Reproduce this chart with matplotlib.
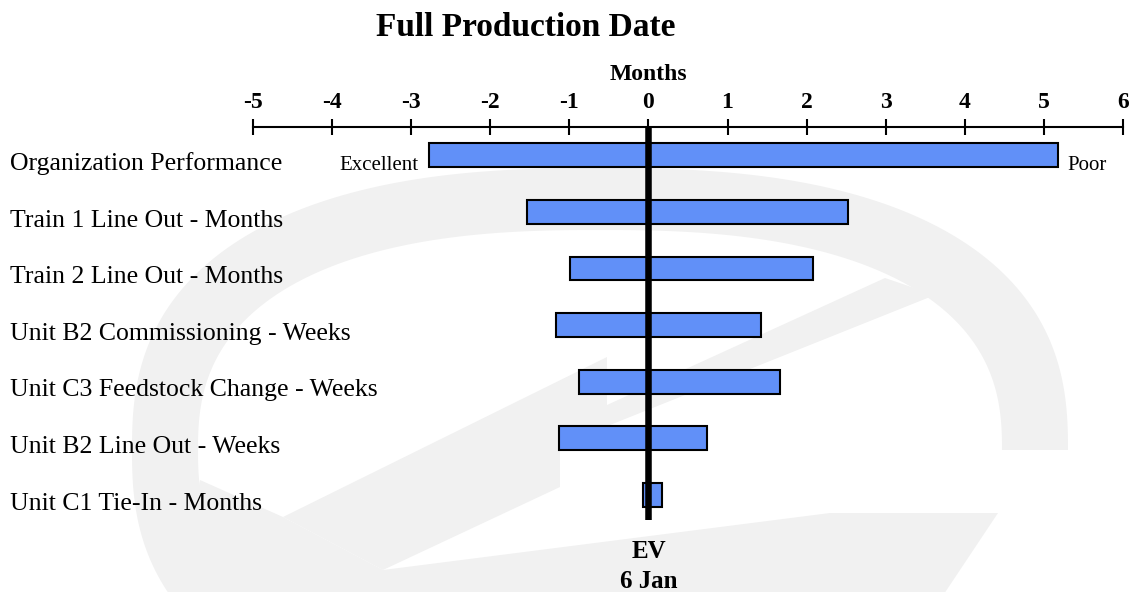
import numpy as np
import matplotlib
matplotlib.use('Agg')
import matplotlib.pyplot as plt
from matplotlib import transforms
from matplotlib.patches import Polygon

plt.rcParams['font.family'] = ['Liberation Serif', 'DejaVu Serif']

# Swing of each driver around the expected full-production date, in months
categories = [
    'Organization Performance',
    'Train 1 Line Out - Months',
    'Train 2 Line Out - Months',
    'Unit B2 Commissioning - Weeks',
    'Unit C3 Feedstock Change - Weeks',
    'Unit B2 Line Out - Weeks',
    'Unit C1 Tie-In - Months',
]
low = [-2.78, -1.54, -0.99, -1.17, -0.88, -1.13, -0.07]
high = [5.18, 2.52, 2.08, 1.42, 1.67, 0.74, 0.17]
month_ticks = list(range(-5, 7))

W, H = 1133, 592
BAR_COLOR = '#6190f8'
MARK_COLOR = '#f1f1f1'


def superellipse(cx, cy, rx, ry, t, n=2.5):
    c, s = np.cos(t), np.sin(t)
    x = cx + rx * np.sign(c) * np.abs(c) ** (2 / n)
    y = cy - ry * np.sign(s) * np.abs(s) ** (2 / n)
    return x, y


def draw_backdrop(fig):
    """Faint circular-arrow logo behind the chart (pixel coordinates)."""
    bg = fig.add_axes([0, 0, 1, 1], zorder=0)
    bg.set_xlim(0, W)
    bg.set_ylim(H, 0)
    bg.axis('off')

    t = np.linspace(0, np.radians(250), 300)
    ox, oy = superellipse(600, 450, 468, 282, t)
    ix, iy = superellipse(600, 450, 402, 220, t)
    ring = np.column_stack([np.r_[ox, ix[::-1]], np.r_[oy, iy[::-1]]])
    bg.add_patch(Polygon(ring, closed=True, color=MARK_COLOR, lw=0))

    lower = [(200, 480), (283, 517), (383, 570), (830, 513), (998, 513),
             (940, 600), (180, 600)]
    bg.add_patch(Polygon(lower, closed=True, color=MARK_COLOR, lw=0))

    arrow = [(283, 517), (607, 357), (607, 405), (885, 278), (935, 295),
             (560, 445), (560, 487), (383, 570)]
    bg.add_patch(Polygon(arrow, closed=True, color=MARK_COLOR, lw=0))


fig = plt.figure(figsize=(W / 100, H / 100), dpi=100)
fig.patch.set_facecolor('white')
draw_backdrop(fig)

ax_top, ax_bot = 126.7, 520.0
ax_left, ax_right = 253.3, 1122.7
ax = fig.add_axes([ax_left / W, 1 - ax_bot / H,
                   (ax_right - ax_left) / W, (ax_bot - ax_top) / H], zorder=1)
ax.set_facecolor('none')

rows = np.arange(len(categories))
row_px = 56.6
ax.set_xlim(-5, 6)
ax.set_ylim((ax_bot - 155.3) / row_px, -(155.3 - ax_top) / row_px)

widths = np.array(high) - np.array(low)
ax.barh(rows, widths, left=low, height=0.424, color=BAR_COLOR,
        edgecolor='black', linewidth=1.5, zorder=2)
ax.axvline(0, color='black', lw=4.7, zorder=3)

# axis along the top
for side in ('left', 'right', 'bottom'):
    ax.spines[side].set_visible(False)
ax.spines['top'].set_linewidth(1.5)
ax.xaxis.tick_top()
ax.set_xticks(month_ticks)
ax.set_xticklabels([str(m) for m in month_ticks], fontsize=17, fontweight='bold')
ax.tick_params(axis='x', direction='inout', length=11.5, width=1.5, pad=4)
ax.set_yticks([])

ax.set_xlabel('Months', fontsize=17, fontweight='bold')
ax.xaxis.set_label_position('top')
ax.xaxis.set_label_coords(5 / 11, 1 + (ax_top - 80) / (ax_bot - ax_top))
ax.xaxis.label.set_va('baseline')

# driver names on the left
lab_tr = transforms.blended_transform_factory(fig.transFigure, ax.transData)
for r, name in zip(rows, categories):
    ax.text(10 / W, r + 0.26, name, transform=lab_tr, fontsize=18.5,
            ha='left', va='baseline')

ax.annotate('Excellent', xy=(low[0], 0.26), xytext=(-7.5, 0),
            textcoords='offset points', ha='right', va='baseline', fontsize=15)
ax.annotate('Poor', xy=(high[0], 0.26), xytext=(7, 0),
            textcoords='offset points', ha='left', va='baseline', fontsize=15)

ev_tr = transforms.blended_transform_factory(ax.transData, fig.transFigure)
ax.text(0, 1 - 558 / H, 'EV', transform=ev_tr, ha='center', va='baseline',
        fontsize=18, fontweight='bold')
ax.text(0, 1 - 588 / H, '6 Jan', transform=ev_tr, ha='center', va='baseline',
        fontsize=18, fontweight='bold')

fig.text(526 / W, 1 - 36 / H, 'Full Production Date', ha='center',
         va='baseline', fontsize=24, fontweight='bold')

fig.savefig('out.png', dpi=100, facecolor='white')
